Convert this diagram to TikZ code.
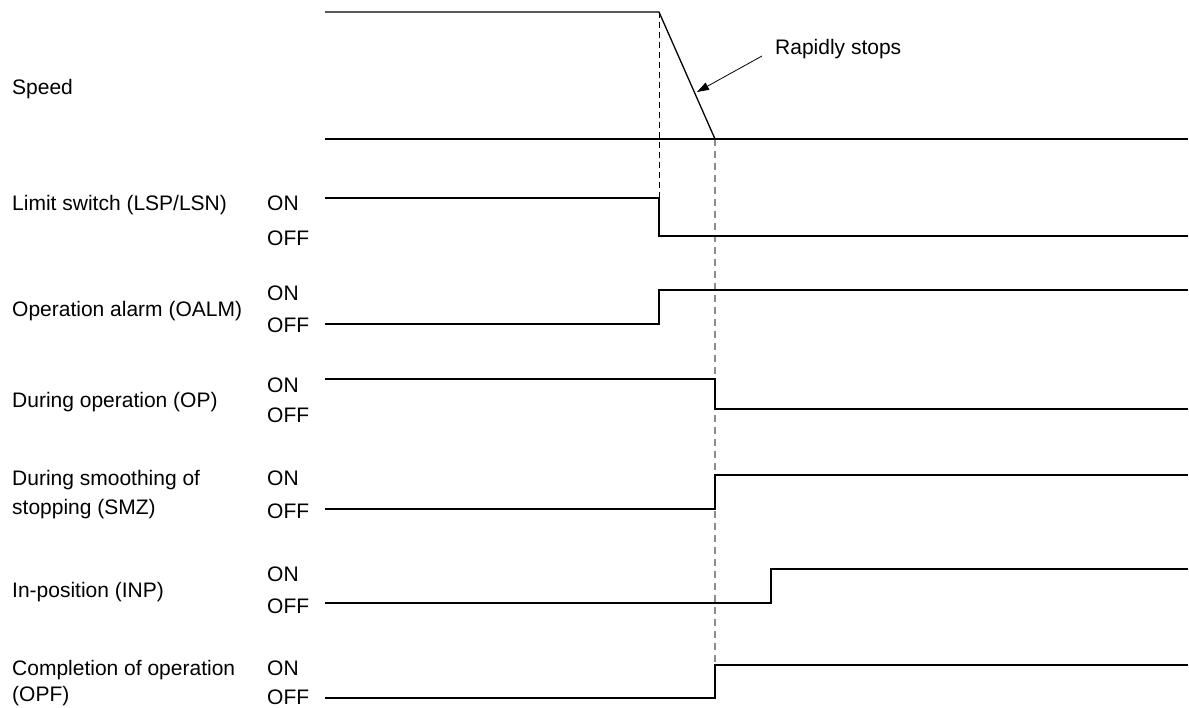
\documentclass[tikz,border=0pt]{standalone}
\usepackage{fontspec}
\setmainfont{Liberation Sans}
\usetikzlibrary{arrows.meta}
\begin{document}
\begin{tikzpicture}[x=1pt,y=-1pt,
  lbl/.style={anchor=west,inner sep=0pt,font=\fontsize{21}{25}\selectfont,text height=15pt,text depth=0pt},
  sig/.style={line width=1.3pt,black,line join=miter},
  markA/.style={dash pattern=on 6pt off 4pt,line width=1pt,black},
  markB/.style={dash pattern=on 7pt off 5pt,line width=1.8pt,black!45},
  callout/.style={line width=0.8pt,-{Triangle[length=12pt,width=8pt]}}]
\useasboundingbox (0,0) rectangle (1189,708);
% time marks
\coordinate (t0) at (325,0);
\coordinate (tA) at (659,0);
\coordinate (tB) at (715,0);
\coordinate (tC) at (771,0);
\coordinate (tE) at (1188,0);
% dashed reference lines
\draw[markA] (659,12) -- (659,198);
\draw[markB] (715,139) -- (715,665);
% Speed
\node[lbl] (speed) at (12,87) {Speed};
\draw[sig] (325,12) -- (659,12) -- (715,139);
\draw[sig] (325,139) -- (1188,139);
\node[lbl] (rs) at (775,47) {Rapidly stops};
\coordinate (rsfrom) at (762,56);
\coordinate (rsto) at (697,92);
\draw[callout] (rsfrom) -- (rsto);
% Limit switch
\node[lbl] (l1) at (12,203) {Limit switch (LSP/LSN)};
\node[lbl] (l1on) at (267,203) {ON};
\node[lbl] (l1off) at (267,238) {OFF};
\draw[sig] (325,198) -- (659,198) -- (659,236) -- (1188,236);
% Operation alarm
\node[lbl] (l2) at (12,309) {Operation alarm (OALM)};
\node[lbl] (l2on) at (267,293) {ON};
\node[lbl] (l2off) at (267,325) {OFF};
\draw[sig] (325,324) -- (659,324) -- (659,290) -- (1188,290);
% During operation
\node[lbl] (l3) at (12,400) {During operation (OP)};
\node[lbl] (l3on) at (267,385) {ON};
\node[lbl] (l3off) at (267,415) {OFF};
\draw[sig] (325,379) -- (715,379) -- (715,409) -- (1188,409);
% SMZ
\node[lbl] (l4a) at (12,478) {During smoothing of};
\node[lbl] (l4b) at (12,507) {stopping (SMZ)};
\node[lbl] (l4on) at (267,478) {ON};
\node[lbl] (l4off) at (267,511) {OFF};
\draw[sig] (325,509) -- (715,509) -- (715,475) -- (1188,475);
% INP
\node[lbl] (l5) at (12,590) {In-position (INP)};
\node[lbl] (l5on) at (267,574) {ON};
\node[lbl] (l5off) at (267,606) {OFF};
\draw[sig] (325,603) -- (771,603) -- (771,569) -- (1188,569);
% OPF
\node[lbl] (l6a) at (12,668) {Completion of operation};
\node[lbl] (l6b) at (12,694) {(OPF)};
\node[lbl] (l6on) at (267,668) {ON};
\node[lbl] (l6off) at (267,697) {OFF};
\draw[sig] (325,698) -- (715,698) -- (715,665) -- (1188,665);
\end{tikzpicture}
\end{document}
